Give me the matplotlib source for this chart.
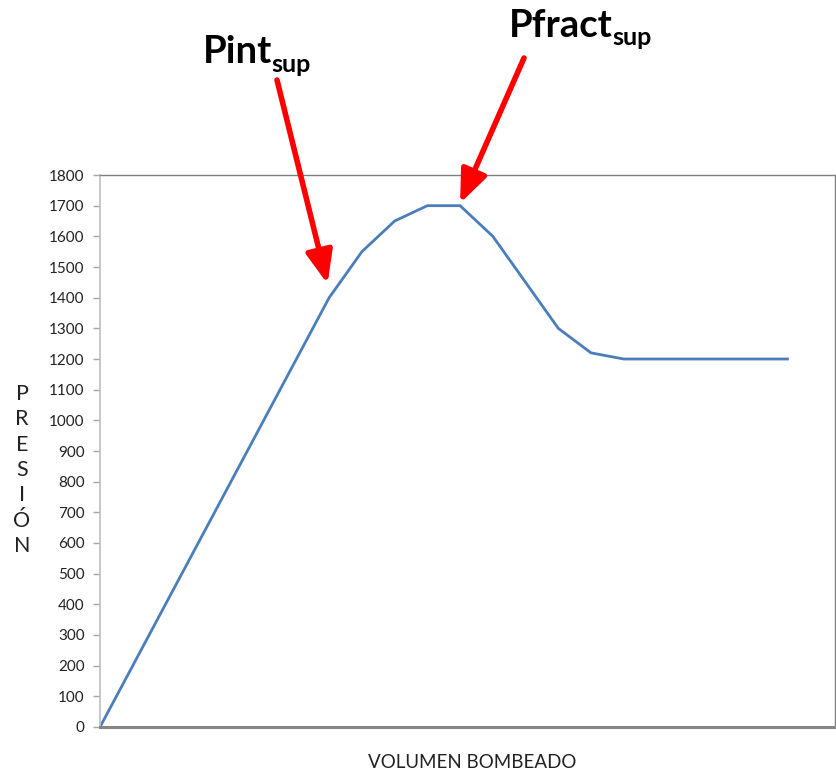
import matplotlib.pyplot as plt

# Presión durante el bombeo
volumen = list(range(22))
presion = [0, 200, 400, 600, 800, 1000, 1200, 1400, 1550, 1650, 1700,
           1700, 1600, 1450, 1300, 1220, 1200, 1200, 1200, 1200, 1200, 1200]
y_ticks = list(range(0, 1900, 100))

plt.rcParams['font.family'] = ['Lato', 'DejaVu Sans']

fig = plt.figure(figsize=(8.37, 7.72), dpi=100)
ax = fig.add_axes([0.1195, 0.0583, 0.878, 0.715])

ax.plot(volumen, presion, color='#4A7EBB', linewidth=2.0, solid_joinstyle='miter')

ax.set_xlim(0, 22.45)
ax.set_ylim(0, 1800)
ax.set_yticks(y_ticks)
ax.set_xticks([])
ax.tick_params(axis='y', labelsize=11, labelcolor='#222222', color='#A6A6A6',
               length=5, width=1, direction='out', pad=6)

ax.spines['left'].set_color('#BFBFBF')
ax.spines['left'].set_linewidth(1.2)
ax.spines['bottom'].set_color('#868686')
ax.spines['bottom'].set_linewidth(2.2)
ax.spines['top'].set_color('#7F7F7F')
ax.spines['right'].set_color('#7F7F7F')
ax.spines['top'].set_linewidth(1.0)
ax.spines['right'].set_linewidth(1.0)

# etiquetas de los ejes
fig.text(472 / 837, 1 - 763 / 772, 'VOLUMEN BOMBEADO', ha='center', va='center',
         fontsize=13.5, color='#222222')
fig.text(22 / 837, 1 - 470 / 772, 'P\nR\nE\nS\nI\nÓ\nN', ha='center', va='center',
         fontsize=15.5, color='#222222', linespacing=1.33)

# anotaciones con flechas
fig.text(203 / 837, 1 - 63 / 772, 'Pint', fontsize=27.5, fontweight='bold',
         ha='left', va='baseline')
fig.text(271 / 837, 1 - 72 / 772, 'sup', fontsize=18, fontweight='bold',
         ha='left', va='baseline')
fig.text(509 / 837, 1 - 37 / 772, 'Pfract', fontsize=27.5, fontweight='bold',
         ha='left', va='baseline')
fig.text(612 / 837, 1 - 45 / 772, 'sup', fontsize=18, fontweight='bold',
         ha='left', va='baseline')

flecha = dict(arrowstyle='-|>,head_length=1.1,head_width=0.45', color='#FF0000',
              linewidth=4, mutation_scale=18, shrinkA=0, shrinkB=0)
ax.annotate('', xy=(6.95, 1445), xycoords='data',
            xytext=(277, 772 - 80), textcoords='figure pixels',
            arrowprops=flecha, annotation_clip=False)
ax.annotate('', xy=(11.0, 1708), xycoords='data',
            xytext=(524, 772 - 58), textcoords='figure pixels',
            arrowprops=flecha, annotation_clip=False)

fig.savefig('out.png', dpi=100)
